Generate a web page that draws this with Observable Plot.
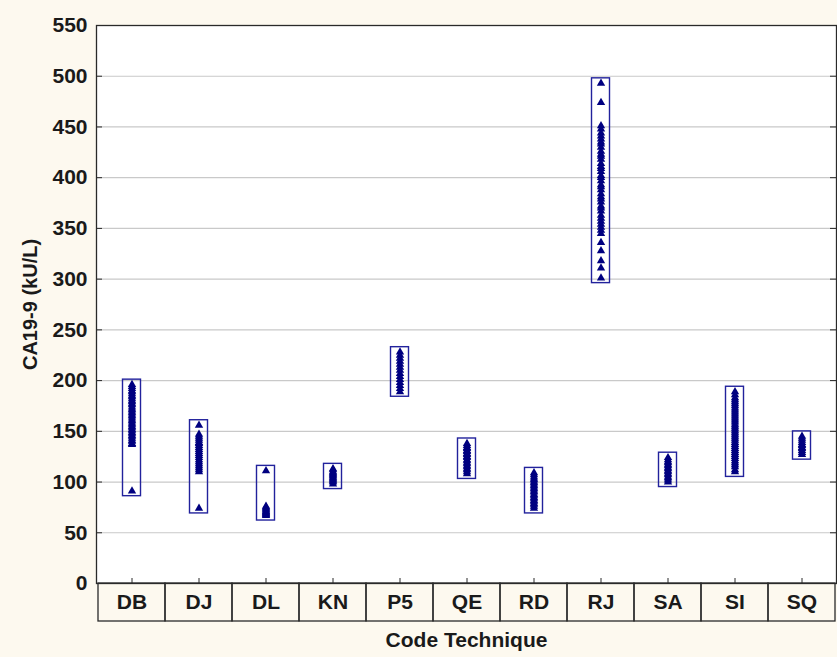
<!DOCTYPE html>
<html>
<head>
<meta charset="utf-8">
<script src="https://cdn.jsdelivr.net/npm/d3@7"></script>
<script src="https://cdn.jsdelivr.net/npm/@observablehq/plot@0.6"></script>
<style>
  html, body { margin: 0; padding: 0; background: #fdf9ef; }
  #chart svg { display: block; }
</style>
</head>
<body>
<div id="chart"></div>
<script>
// Category labels (Code Technique)
const categories = ["DB", "DJ", "DL", "KN", "P5", "QE", "RD", "RJ", "SA", "SI", "SQ"];
// Y axis tick labels
const yTicks = [0, 50, 100, 150, 200, 250, 300, 350, 400, 450, 500, 550];
const xTitle = "Code Technique";
const yTitle = "CA19-9 (kU/L)";

// CA19-9 values per technique (kU/L)
const DB = [196, 194, 192, 190, 189, 187, 185, 184, 182, 180, 179, 177, 176, 174, 172, 171, 169, 168, 166, 165, 163, 161, 160, 158, 157, 155, 154, 152, 151, 149, 148, 146, 145, 143, 141, 140, 138, 137, 91];
const DJ = [156, 147, 145, 143, 141, 139, 138, 136, 134, 132, 130, 128, 126, 124, 122, 120, 118, 116, 114, 112, 110, 74];
const DL = [111, 76, 75, 74, 73, 72, 71, 70, 69, 68, 67];
const KN = [113, 112, 110, 109, 108, 107, 106, 105, 104, 103, 102, 101, 100, 98];
const P5 = [228, 225, 222, 219, 216, 213, 210, 207, 204, 201, 198, 195, 192, 189];
const QE = [138, 136, 134, 133, 131, 130, 128, 127, 125, 124, 122, 121, 119, 118, 116, 115, 113, 112, 110, 108];
const RD = [109, 107, 105, 103, 102, 100, 99, 97, 96, 94, 93, 91, 90, 88, 87, 85, 84, 82, 81, 79, 78, 76, 74];
const RJ = [493, 474, 451, 448, 444, 441, 438, 435, 433, 430, 426, 423, 421, 418, 414, 411, 409, 406, 402, 400, 397, 393, 391, 388, 384, 381, 379, 376, 372, 370, 367, 363, 360, 357, 354, 351, 348, 345, 336, 328, 318, 311, 301];
const SA = [124, 122, 120, 119, 117, 116, 114, 113, 111, 110, 108, 107, 105, 104, 102, 100];
const SI = [189, 186, 183, 181, 179, 177, 175, 173, 171, 169, 167, 165, 163, 161, 159, 157, 155, 153, 151, 149, 147, 145, 143, 141, 139, 137, 135, 133, 131, 129, 127, 125, 123, 121, 119, 117, 115, 112, 110];
const SQ = [145, 143, 141, 139, 137, 136, 134, 133, 131, 129, 127];

const seriesByCode = {DB, DJ, DL, KN, P5, QE, RD, RJ, SA, SI, SQ};
const points = categories.flatMap(c => seriesByCode[c].map(v => ({code: c, value: v})));
const boxes = categories.map(c => ({code: c, lo: d3.min(seriesByCode[c]), hi: d3.max(seriesByCode[c])}));

const W = 837, H = 657;
const mL = 96, mR = 1, mT = 25, mB = 74;
const plotW = W - mL - mR, plotH = H - mT - mB;
const ink = "#2a2a2a";
const font = "'Liberation Sans', Arial, sans-serif";

const chart = Plot.plot({
  width: W,
  height: H,
  marginLeft: mL,
  marginRight: mR,
  marginTop: mT,
  marginBottom: mB,
  style: {background: "transparent", fontFamily: font, fontWeight: "bold", color: "#1a1a1a"},
  x: {type: "band", domain: categories, padding: 0},
  y: {domain: [0, 550]},
  marks: [
    Plot.frame({fill: "white", stroke: null}),
    Plot.gridY(yTicks, {stroke: "#c9c9c9", strokeOpacity: 1, strokeWidth: 1.2}),
    Plot.ruleY(yTicks, {y: d => d, insetRight: plotW - 6, stroke: ink}),
    Plot.ruleY(yTicks, {y: d => d, insetLeft: plotW - 6, stroke: ink}),
    Plot.tickX(categories, {x: d => d, insetTop: plotH - 5, stroke: ink}),
    Plot.barY(boxes, {x: "code", y1: "lo", y2: "hi", insetLeft: 24.5, insetRight: 24.5, insetTop: -5, insetBottom: -5, fill: "none", stroke: "#22229c", strokeWidth: 1.4}),
    Plot.dot(points, {x: "code", y: "value", symbol: "triangle", r: 3.1, fill: "#000080", stroke: null}),
    Plot.barY(categories, {x: d => d, y1: 0, y2: 0, insetBottom: -38, fill: "none", stroke: ink, strokeWidth: 1.3}),
    Plot.axisX({tickSize: 0, tickPadding: 11, fontSize: 21, label: null}),
    Plot.axisY({ticks: yTicks, tickSize: 0, tickPadding: 9, fontSize: 21, label: null}),
    Plot.text([xTitle], {text: d => d, frameAnchor: "bottom", lineAnchor: "middle", dy: 57, fontSize: 21, fill: "#1a1a1a"}),
    Plot.text([yTitle], {text: d => d, frameAnchor: "left", textAnchor: "middle", lineAnchor: "middle", rotate: -90, dx: -66, fontSize: 20, fill: "#1a1a1a"}),
    Plot.frame({stroke: ink, strokeWidth: 1.3})
  ]
});
document.getElementById("chart").appendChild(chart);
</script>
</body>
</html>
